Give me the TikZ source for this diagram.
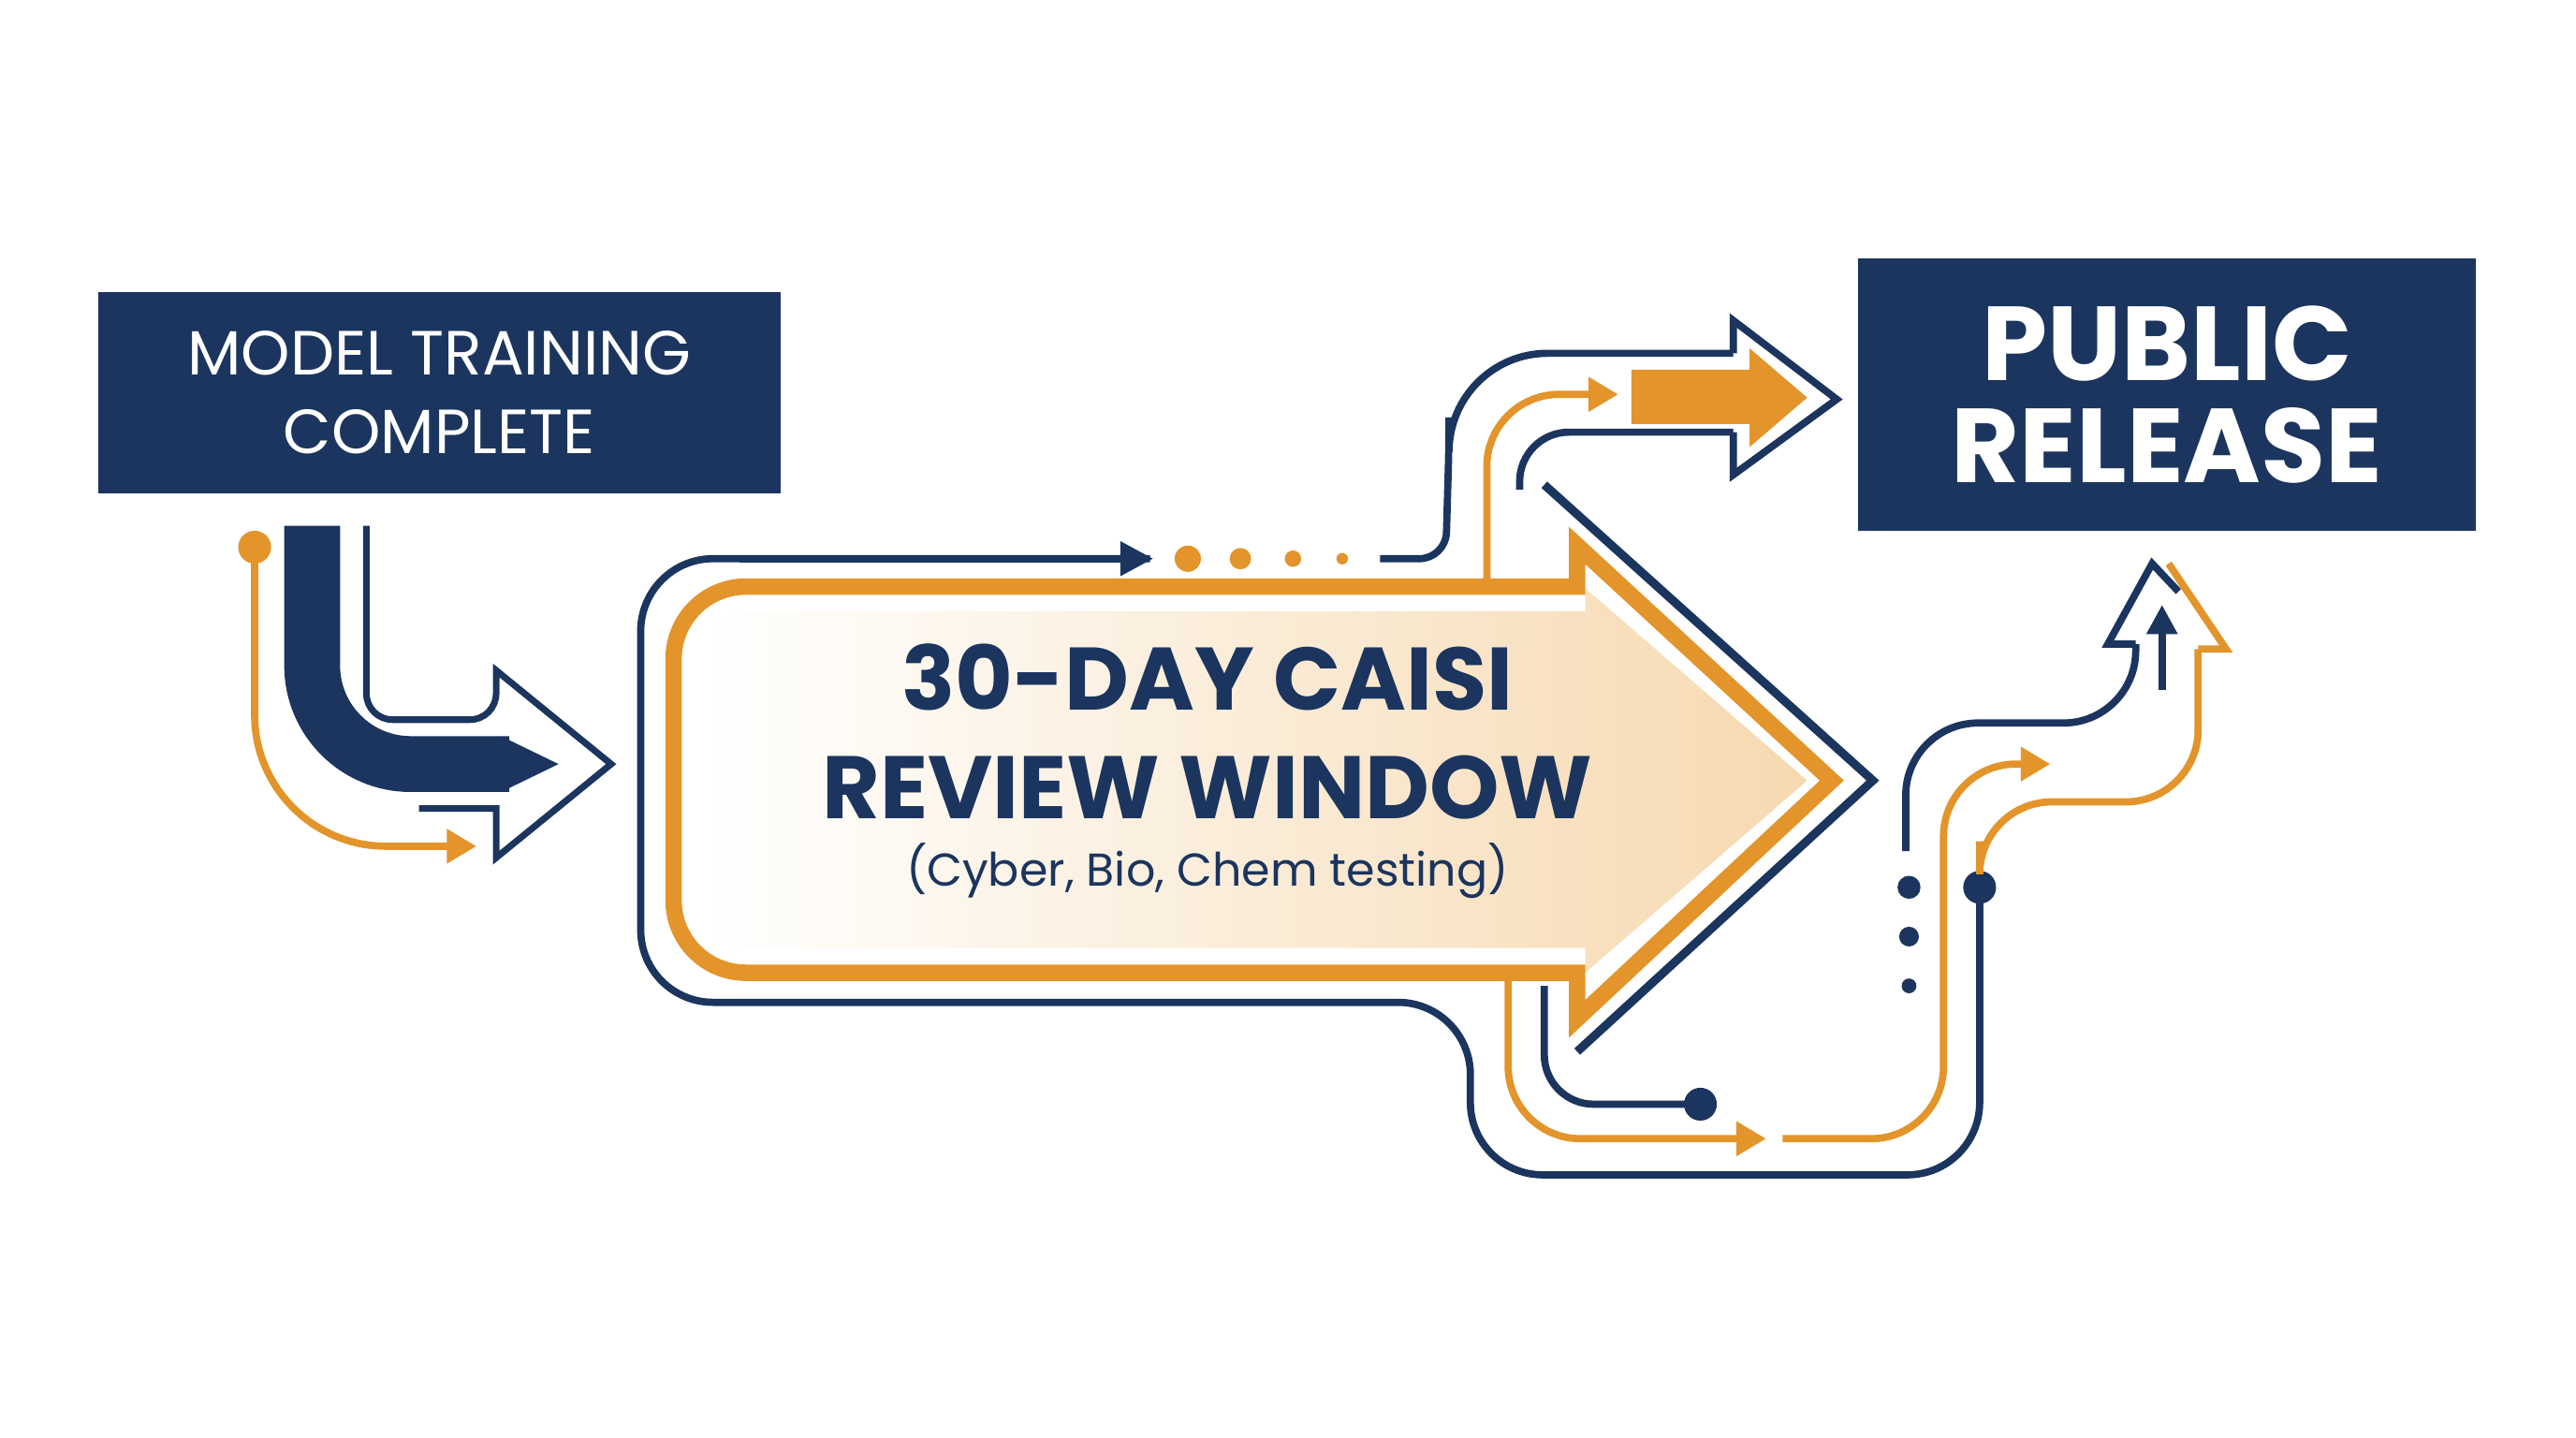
\documentclass[tikz,border=0pt]{standalone}
\usepackage{fontspec}
\setmainfont{Poppins}
\usetikzlibrary{positioning,arrows.meta,shadings}
\definecolor{navy}{HTML}{1B355E}
\definecolor{gold}{HTML}{E3942A}
\definecolor{peach}{HTML}{F6D9B0}
\tikzset{every picture/.style={line width=0.75pt},
  box/.style={fill=navy,text=white,align=center,inner sep=0pt},
  nline/.style={draw=navy,line width=2.2pt,rounded corners=22pt},
  oline/.style={draw=gold,line width=2.2pt,rounded corners=22pt},
  otip/.style={-{Triangle[gold,length=9pt,width=10pt]}}}
\begin{document}
\begin{tikzpicture}[x=0.5pt,y=0.5pt,yscale=-1,xscale=1]
\useasboundingbox (0,0) rectangle (1568,875);

% boxes
\node[box,minimum width=207.5pt,minimum height=61pt,font=\fontsize{19}{24}\selectfont] (train) at (267.5,239) {MODEL TRAINING\\COMPLETE};
\node[box,minimum width=188pt,minimum height=83pt,font=\fontsize{32}{31}\selectfont\bfseries] (release) at (1319,240) {PUBLIC\\RELEASE};

% big central arrow
\draw[nline] (700,340) -- (390,340) -- (390,610) -- (895,610) -- (895,715) -- (1205,715) -- (1205,540);
\draw[navy,line width=2.6pt,line join=miter] (940,295) -- (1140,475) -- (960,640);
\shade[left color=white,right color=peach] (965,372) -- (965,358) -- (1100,475) -- (965,592) -- (965,577) [rounded corners=16pt] -- (425,577) -- (425,372) [sharp corners] -- (965,372) -- cycle;
\draw[gold,line width=5pt,line join=miter] (960,357) -- (960,332) -- (1115,475) -- (960,620) -- (960,592) [rounded corners=22pt] -- (410,592) -- (410,357) [sharp corners] -- (960,357) -- cycle;
\node[text=navy,align=center,font=\fontsize{27}{33}\selectfont\bfseries] (title) at (735,445) {30-DAY CAISI\\REVIEW WINDOW};
\node[text=navy,below=0pt of title,font=\fontsize{14}{16}\selectfont] (sub) {(Cyber, Bio, Chem testing)};

% left connector
\draw[navy,line width=17pt,rounded corners=30pt] (190,320) -- (190,465) -- (310,465);
\fill[navy] (305,448) -- (340,465) -- (305,482) -- cycle;
\draw[navy,line width=2pt,rounded corners=8pt] (223,320) -- (223,438) -- (302,438) [sharp corners] -- (302,408) -- (372,465) -- (302,522) -- (302,492) -- (255,492);
\fill[gold] (155,333) circle (10);
\draw[gold,line width=2.2pt,rounded corners=40pt,otip] (155,333) -- (155,515) -- (290,515);

% top connector
\draw[navy,line width=2.2pt,-{Triangle[length=10pt,width=10pt]}] (450,340) -- (702,340);
\foreach \x/\r in {723/8,755/6.5,787/5,817/3.5} \fill[gold] (\x,340) circle (\r);
\draw[navy,line width=2.2pt,rounded corners=8pt] (840,340) -- (880,340) -- (882,270) [rounded corners=30pt] -- (882,215) -- (1055,215);
\draw[navy,line width=2.2pt,line join=miter] (1055,215) -- (1055,195) -- (1118,243) -- (1055,289) -- (1055,263);
\draw[navy,line width=2.2pt,rounded corners=15pt] (925,298) -- (925,263) -- (1055,263);
\draw[oline,otip] (905,355) -- (905,240) -- (985,240);
\fill[gold] (993,225) -- (1065,225) -- (1065,212) -- (1100,242) -- (1065,272) -- (1065,258) -- (993,258) -- cycle;

% bottom connector
\draw[navy,line width=2.2pt,rounded corners=15pt] (940,600) -- (940,672) -- (1035,672);
\fill[navy] (1035,672) circle (10);
\draw[oline,otip] (918,592) -- (918,693) -- (1075,693);
\draw[oline,otip] (1085,693) -- (1183,693) -- (1183,465) -- (1248,465);
\fill[navy] (1205,540) circle (10);
\foreach \y/\r in {540/7,570/6,600/4.5} \fill[navy] (1162,\y) circle (\r);
\draw[nline] (1160,518) -- (1160,440) -- (1300,440) [sharp corners] -- (1300,392);
\draw[navy,line width=2.2pt,line join=miter] (1300,392) -- (1283,392) -- (1310,343) -- (1326,360);
\draw[navy,line width=2.2pt,-{Triangle[length=9pt,width=9pt]}] (1316,420) -- (1316,368);
\draw[oline] (1205,512) -- (1205,488) -- (1338,488) [sharp corners] -- (1338,395);
\draw[gold,line width=2.2pt,line join=miter] (1338,395) -- (1355,395) -- (1320,343);
\end{tikzpicture}
\end{document}
